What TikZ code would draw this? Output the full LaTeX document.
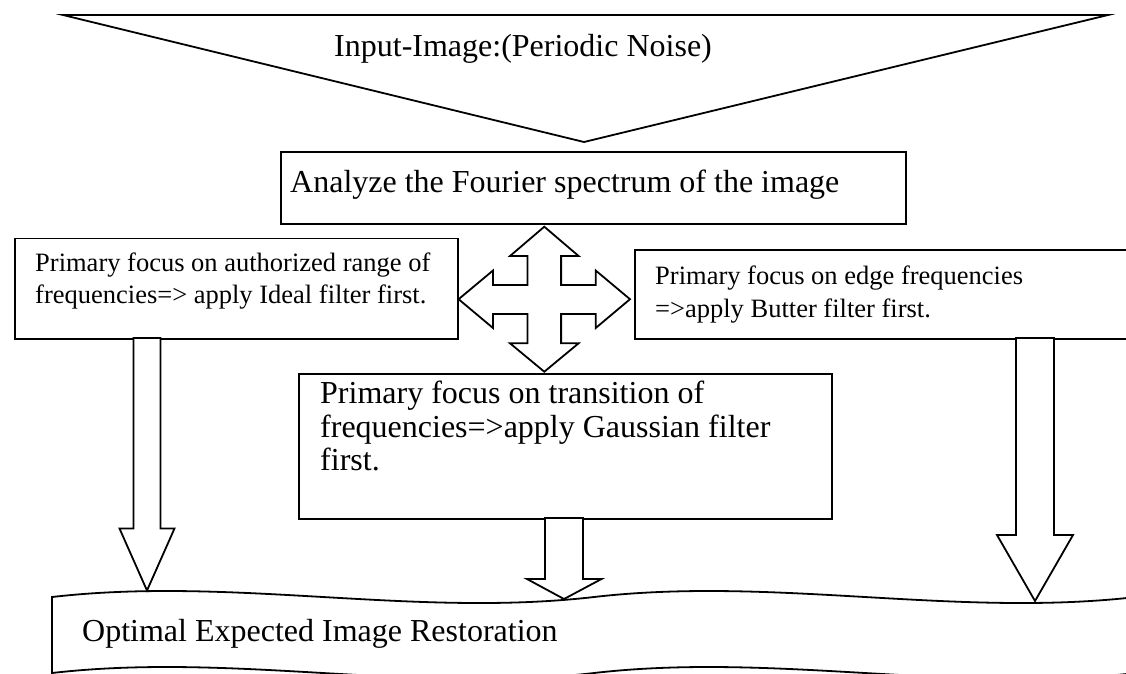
\documentclass[tikz,border=0pt]{standalone}
\usepackage{fontspec}
\setmainfont{Liberation Serif}[Ligatures=CommonOff]
\tikzset{
  shp/.style={draw=black, line width=1.8pt, fill=white, line join=miter},
  boxn/.style={shp, inner sep=0pt, anchor=north west},
  bigt/.style={inner sep=0pt, anchor=base west, font=\fontsize{32}{38}\selectfont},
  smallt/.style={inner sep=0pt, anchor=base west, font=\fontsize{26.5}{32}\selectfont},
}
\begin{document}
\begin{tikzpicture}[x=1pt,y=-1pt]
\useasboundingbox (0,0) rectangle (1126,673);
\clip (0,0) rectangle (1126,673);
% input triangle
\coordinate (tl) at (63,15);
\coordinate (tr) at (1108,15);
\coordinate (tapex) at (584,142);
\draw[shp] (tl) -- (tr) -- (tapex) -- cycle;
\node[bigt] (title) at (334,56) {Input-Image:(Periodic Noise)};
% boxes
\node[boxn, minimum width=625pt, minimum height=72pt] (analyze) at (280,151) {};
\node[bigt] (analyzet) at (290,192) {Analyze the Fourier spectrum of the image};
\node[boxn, minimum width=443pt, minimum height=100.5pt] (lbox) at (14,237.5) {};
\node[boxn, minimum width=600pt, minimum height=89pt] (rbox) at (634,249) {};
\node[boxn, minimum width=533pt, minimum height=145pt] (mbox) at (298,373) {};
% four-way arrow
\draw[shp] (544.3,226.7) -- (578.6,256) -- (561.1,256) -- (561.1,285) -- (595.7,285)
  -- (595.7,270.5) -- (630,299.2) -- (595.7,328) -- (595.7,314) -- (561.1,314)
  -- (561.1,343.3) -- (578.6,343.3) -- (544.3,371.7) -- (510,343.3) -- (527.5,343.3)
  -- (527.5,314) -- (493,314) -- (493,328) -- (458.6,299.2) -- (493,270.5)
  -- (493,285) -- (527.5,285) -- (527.5,256) -- (510,256) -- cycle;
% output tape
\draw[shp] (52,597) .. controls (232.7,576.2) and (413.3,617.8) .. (594,597)
  .. controls (774.7,576.2) and (955.3,617.8) .. (1136,597) -- (1136,673)
  .. controls (955.3,693.8) and (774.7,652.2) .. (594,673)
  .. controls (413.3,693.8) and (232.7,652.2) .. (52,673) -- cycle;
% block arrows
\draw[shp] (133.5,338) -- (160.5,338) -- (160.5,528.5) -- (174.5,528.5) -- (147,590.5)
  -- (119.5,528.5) -- (133.5,528.5) -- cycle;
\draw[shp] (545,518) -- (583,518) -- (583,579) -- (601.5,579) -- (564,599)
  -- (527,579) -- (545,579) -- cycle;
\draw[shp] (1016,338) -- (1054,338) -- (1054,535) -- (1073,535) -- (1035,601)
  -- (997,535) -- (1016,535) -- cycle;
% texts
\node[smallt] (l1) at (35,271) {Primary focus on authorized range of};
\node[smallt] (l2) at (35,303) {frequencies=> apply Ideal filter first.};
\node[smallt] (r1) at (655,284) {Primary focus on edge frequencies};
\node[smallt] (r2) at (655,317) {=>apply Butter filter first.};
\node[bigt] (m1) at (320,403) {Primary focus on transition of};
\node[bigt] (m2) at (320,437) {frequencies=>apply Gaussian filter};
\node[bigt] (m3) at (320,470) {first.};
\node[bigt] (outt) at (82,641) {Optimal Expected Image Restoration};
\end{tikzpicture}
\end{document}
